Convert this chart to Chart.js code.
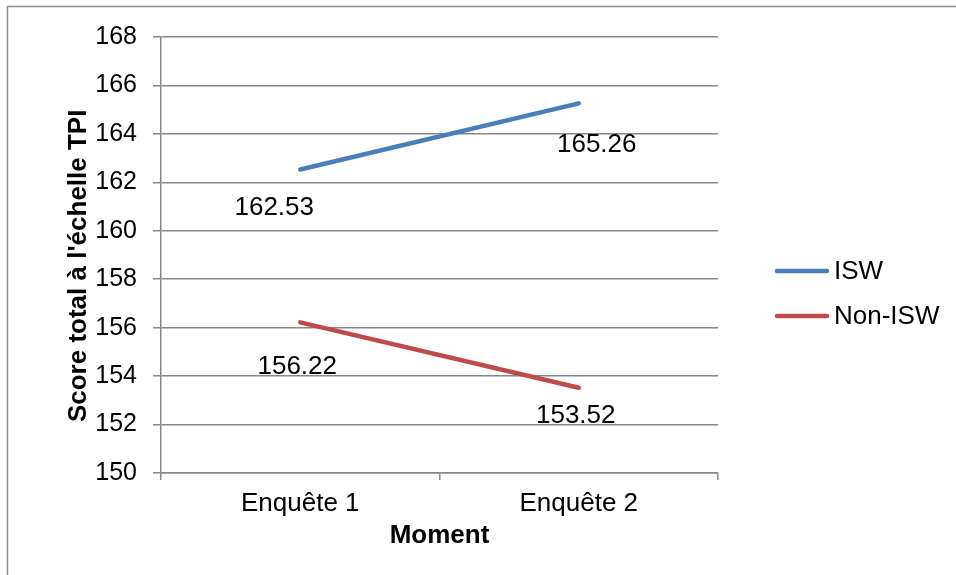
<!DOCTYPE html>
<html>
<head>
<meta charset="utf-8">
<script src="https://cdn.jsdelivr.net/npm/chart.js@4"></script>
<style>
  html, body { margin: 0; padding: 0; background: #fff; }
  #wrap { width: 956px; height: 575px; position: relative; }
</style>
</head>
<body>
<div id="wrap"><canvas id="chart" width="956" height="575"></canvas></div>
<script>
const moments = ['Enquête 1', 'Enquête 2'];
const isw = [162.53, 165.26];
const nonIsw = [156.22, 153.52];
const yMin = 150, yMax = 168, yStep = 2;

// label nudges (px) for each point label, per series
const labelShift = [
  [[-26, 38], [18, 41]],
  [[-3, 44], [-3, 28]]
];

const grey = '#878787';
const font = 'Liberation Sans, Arial, sans-serif';

// outer frame around the whole chart
const framePlugin = {
  id: 'frame',
  beforeDraw(chart) {
    const c = chart.ctx;
    c.save();
    c.fillStyle = '#fff';
    c.fillRect(0, 0, chart.width, chart.height);
    c.strokeStyle = '#8c8c8c';
    c.lineWidth = 1.5;
    c.strokeRect(7.5, 6.5, chart.width + 20, chart.height + 20);
    c.restore();
  }
};

// value labels under the points
const valuePlugin = {
  id: 'values',
  afterDatasetsDraw(chart) {
    const c = chart.ctx;
    c.save();
    c.font = '26px ' + font;
    c.fillStyle = '#000';
    c.textAlign = 'center';
    c.textBaseline = 'middle';
    chart.data.datasets.forEach((ds, di) => {
      chart.getDatasetMeta(di).data.forEach((pt, i) => {
        const [dx, dy] = labelShift[di][i];
        c.fillText(ds.data[i].toFixed(2), pt.x + dx, pt.y + dy);
      });
    });
    c.restore();
  }
};

// legend on the right side
const legendPlugin = {
  id: 'sideLegend',
  afterDraw(chart) {
    const c = chart.ctx;
    c.save();
    c.font = '26px ' + font;
    c.textBaseline = 'middle';
    c.lineCap = 'round';
    chart.data.datasets.forEach((ds, i) => {
      const y = 271 + i * 45;
      c.strokeStyle = ds.borderColor;
      c.lineWidth = 4.5;
      c.beginPath();
      c.moveTo(777, y);
      c.lineTo(827, y);
      c.stroke();
      c.fillStyle = '#000';
      c.fillText(ds.label, 834, y + 1);
    });
    c.restore();
  }
};

new Chart(document.getElementById('chart'), {
  type: 'line',
  data: {
    labels: moments,
    datasets: [
      { label: 'ISW', data: isw, borderColor: '#4A7EBB', borderWidth: 4.5, borderCapStyle: 'round', pointRadius: 0, tension: 0, fill: false },
      { label: 'Non-ISW', data: nonIsw, borderColor: '#BE4B48', borderWidth: 4.5, borderCapStyle: 'round', pointRadius: 0, tension: 0, fill: false }
    ]
  },
  options: {
    responsive: false,
    animation: false,
    layout: { padding: { top: 37, right: 238, left: 0, bottom: 0 } },
    plugins: { legend: { display: false }, tooltip: { enabled: false } },
    scales: {
      x: {
        offset: true,
        grid: { offset: true, drawOnChartArea: false, drawTicks: true, tickLength: 7, color: grey, lineWidth: 1.5 },
        border: { color: grey, width: 1.5 },
        ticks: { color: '#000', padding: 8, font: { family: font, size: 26, lineHeight: 1.2 } },
        title: { display: true, text: 'Moment', color: '#000', padding: { bottom: 24 }, font: { family: font, size: 26, weight: 'bold', lineHeight: 1.2 } },
        afterFit(scale) { scale.height = 102; }
      },
      y: {
        min: yMin,
        max: yMax,
        grid: { drawTicks: true, tickLength: 8, color: grey, lineWidth: 1.5 },
        border: { color: grey, width: 1.5 },
        ticks: { stepSize: yStep, color: '#000', padding: 16, font: { family: font, size: 25, lineHeight: 1.2 } },
        // trailing no-break spaces push the rotated title a little lower
        title: { display: true, text: "Score total à l'échelle TPI\u00a0\u00a0\u00a0", color: '#000', padding: { top: 63 }, font: { family: font, size: 26, weight: 'bold', lineHeight: 1.2 } },
        afterFit(scale) { scale.width = 161; }
      }
    }
  },
  plugins: [framePlugin, valuePlugin, legendPlugin]
});
</script>
</body>
</html>
